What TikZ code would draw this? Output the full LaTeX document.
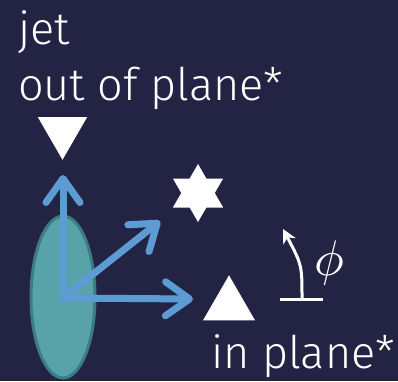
\documentclass[tikz,border=0pt]{standalone}
\usepackage{fontspec}
\setmainfont{Fira Sans Light}
\usetikzlibrary{arrows.meta,shapes.geometric}
\definecolor{bgnavy}{RGB}{35,36,68}
\definecolor{vecblue}{RGB}{92,156,211}
\definecolor{jetfill}{RGB}{88,162,170}
\definecolor{jetedge}{RGB}{60,124,132}
\tikzset{
  lbl/.style={text=white, font=\fontsize{45}{45}\selectfont, inner sep=0pt, anchor=base west},
  vec/.style={draw=vecblue, line width=7pt, line cap=round, line join=round,
    -{Straight Barb[length=24pt, width=34pt, line cap=round, line join=round]}},
  marker/.style={fill=white, draw=none, inner sep=0pt, text width=0pt},
}
\begin{document}
\begin{tikzpicture}[x=1pt,y=-1pt]
\fill[bgnavy] (0,0) rectangle (398,381);
\useasboundingbox (0,0) rectangle (398,381);
% jet ellipse
\node[ellipse, fill=jetfill, draw=jetedge, line width=3pt, minimum width=64pt, minimum height=162pt, inner sep=0pt] (jetell) at (63,297) {};
% origin and vector tips
\coordinate (o) at (63,298);
\coordinate (tipup) at (63,175);
\coordinate (tipdiag) at (160,221);
\coordinate (tipright) at (193,299);
\draw[vec] (o) -- (tipup);
\draw[vec] (o) -- (tipdiag);
\draw[vec] (o) -- (tipright);
% markers
\node[marker, regular polygon, regular polygon sides=3, shape border rotate=180, minimum size=57pt] (outtri) at (62.5,131.3) {};
\node[marker, star, star points=6, star point ratio=1.732, minimum size=58pt] (star) at (198,193) {};
\node[marker, regular polygon, regular polygon sides=3, minimum size=60pt] (intri) at (229,305.3) {};
% labels
\node[lbl] (jet) at (18,44) {jet};
\node[lbl] (outlbl) at (18,100) {out of plane*};
\node[lbl] (inlbl) at (211,368) {in plane*};
% angle symbol
\coordinate (bl) at (280,299);
\coordinate (br) at (323,299);
\coordinate (stem) at (302,299);
\coordinate (atip) at (283,229);
\draw[white, line width=3pt] (bl) -- (br);
\draw[white, line width=3pt, -{Stealth[length=14pt, width=14pt]}] (stem) .. controls (302,265) .. (atip);
\node[text=white, inner sep=0pt, scale=5] (phi) at (329,263) {$\phi$};
\end{tikzpicture}
\end{document}
